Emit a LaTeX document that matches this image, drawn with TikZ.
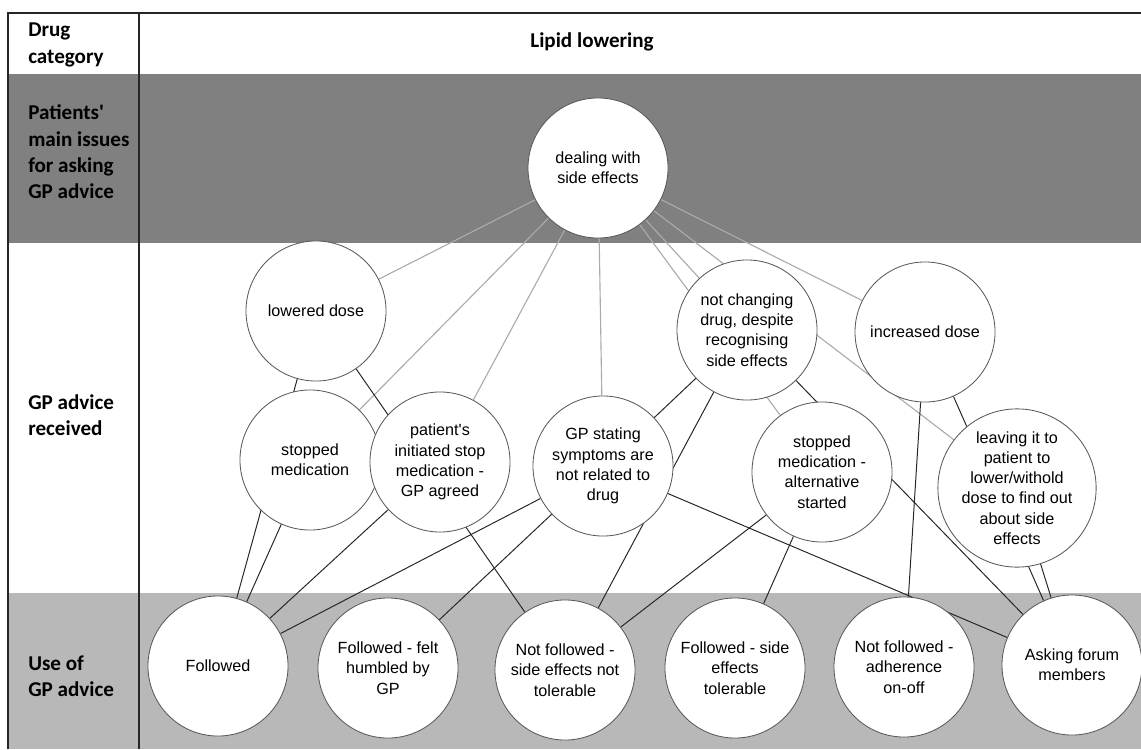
\documentclass[tikz,border=0pt]{standalone}
\usepackage{fontspec}
\setmainfont{Liberation Sans}
\newfontfamily\labelfont{Carlito}
\definecolor{darkband}{HTML}{808080}
\definecolor{lightband}{HTML}{B8B8B8}
\pgfdeclarelayer{back}
\pgfdeclarelayer{links}
\pgfsetlayers{back,links,main}

\begin{document}
\begin{tikzpicture}[
  x=0.025cm, y=-0.025cm,
  bubble/.style={circle, draw=black!65, line width=0.6pt, fill=white, minimum size=3.5cm, inner sep=0pt, align=center, font=\fontsize{11.5}{14.4}\selectfont},
  rowlabel/.style={anchor=west, align=left, inner sep=0pt, font=\labelfont\bfseries\fontsize{15}{18.8}\selectfont},
  grayline/.style={draw=black!33, line width=0.8pt},
  blackline/.style={draw=black!85, line width=0.7pt},
]
  \useasboundingbox (0,0) rectangle (1141,749);

  \begin{pgfonlayer}{back}
    \fill[darkband] (8,74) rectangle (1141,243);
    \fill[lightband] (8,593) rectangle (1141,749);
    \draw[black!85, line width=1.1pt] (8,749) |- (1141,13);
    \draw[black!85, line width=1.1pt] (139,13) -- (139,749);
  \end{pgfonlayer}

  \node[rowlabel] (lblcat) at (28,45) {Drug\\category};
  \node[rowlabel] (lblissue) at (28,152) {Patients\textquotesingle\\main issues\\for asking\\GP advice};
  \node[rowlabel] (lbladvice) at (28,415) {GP advice\\received};
  \node[rowlabel] (lbluse) at (28,676) {Use of\\GP advice};
  \node[font=\labelfont\bfseries\fontsize{15}{18.8}\selectfont] (title) at (592,42) {Lipid lowering};

  \node[bubble] (deal) at (598,168) {dealing with\\side effects};

  \node[bubble] (lowered) at (316,311) {lowered dose};
  \node[bubble] (stopped) at (310,460) {stopped\\medication};
  \node[bubble] (patinit) at (440,462) {patient\textquotesingle s\\initiated stop\\medication -\\GP agreed};
  \node[bubble] (gpstate) at (603,466) {GP stating\\symptoms are\\not related to\\drug};
  \node[bubble] (notchange) at (747,330) {not changing\\drug, despite\\recognising\\side effects};
  \node[bubble] (stopalt) at (822,472) {stopped\\medication -\\alternative\\started};
  \node[bubble] (increased) at (925,332) {increased dose};
  \node[bubble] (leaving) at (1017,488) {leaving it to\\patient to\\lower/withold\\dose to find out\\about side\\effects};

  \node[bubble] (followed) at (218,666) {Followed};
  \node[bubble] (humbled) at (388,668) {Followed - felt\\humbled by\\GP};
  \node[bubble] (notfollse) at (565,670) {Not followed -\\side effects not\\tolerable};
  \node[bubble] (followse) at (735,668) {Followed - side\\effects\\tolerable};
  \node[bubble] (adherence) at (904,667) {Not followed -\\adherence\\on-off};
  \node[bubble] (forum) at (1072,665) {Asking forum\\members};

  \begin{pgfonlayer}{links}
    \foreach \a in {lowered,stopped,patinit,gpstate,notchange,stopalt,leaving,increased}
      \draw[grayline] (deal) -- (\a);
    \foreach \a/\b in {lowered/followed, lowered/notfollse, stopped/followed, patinit/followed,
                       gpstate/followed, gpstate/humbled, gpstate/forum, notchange/gpstate,
                       notchange/notfollse, notchange/forum, stopalt/notfollse, stopalt/followse,
                       increased/adherence, increased/forum, leaving/forum}
      \draw[blackline] (\a) -- (\b);
  \end{pgfonlayer}
\end{tikzpicture}
\end{document}
